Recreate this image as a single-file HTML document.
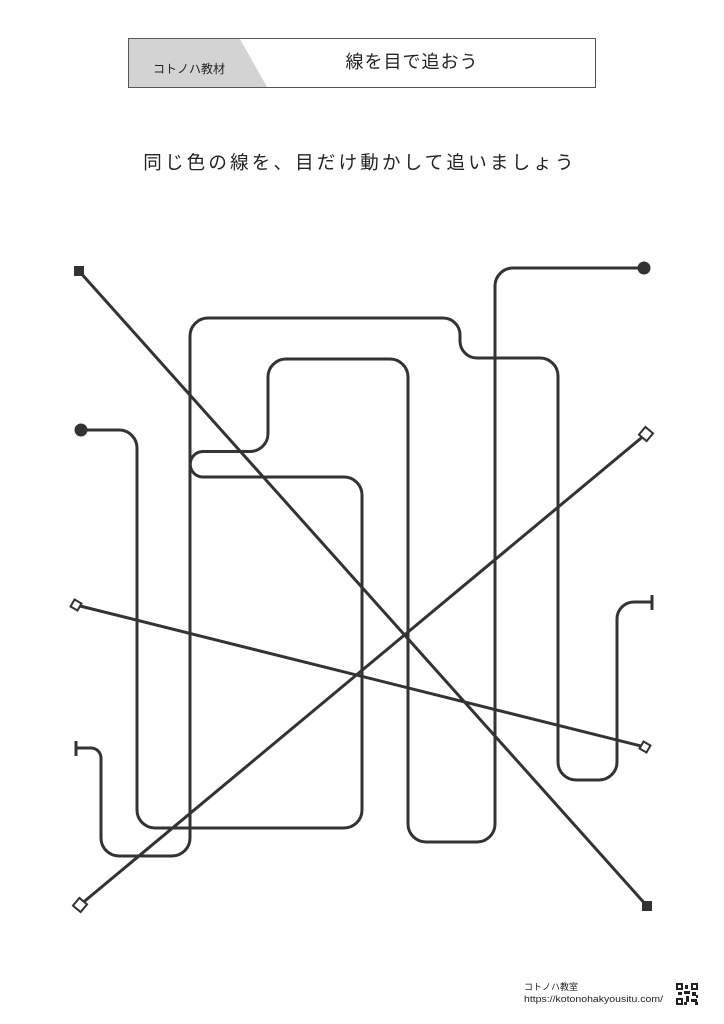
<!DOCTYPE html>
<html><head><meta charset="utf-8"><style>
html,body{margin:0;padding:0;background:#fff;}
svg{display:block;}
text{font-family:"Liberation Sans","Noto Sans CJK JP",sans-serif;fill:#222;}
</style></head><body>
<svg width="724" height="1024" viewBox="0 0 724 1024" xmlns="http://www.w3.org/2000/svg">
<rect x="128.5" y="38.5" width="467" height="49" fill="#fff" stroke="#555" stroke-width="1"/>
<polygon points="129,39 240,39 267,87 129,87" fill="#d4d3d4"/>
<rect x="128.5" y="38.5" width="467" height="49" fill="none" stroke="#555" stroke-width="1"/>
<text x="189" y="73" font-size="12" text-anchor="middle">コトノハ教材</text>
<text x="412" y="68" font-size="18" text-anchor="middle" letter-spacing="1">線を目で追おう</text>
<text x="360" y="169" font-size="18.5" text-anchor="middle" letter-spacing="3.2">同じ色の線を、目だけ動かして追いましょう</text>

<g fill="none" stroke="#333" stroke-width="3" stroke-linejoin="round">
<line x1="79" y1="271" x2="647" y2="906"/>
<line x1="76" y1="605" x2="645" y2="747"/>
<line x1="80" y1="905" x2="646" y2="434"/>
<path d="M81,430 H119 A18,18 0 0 1 137,448 V810 A18,18 0 0 0 155,828 H344 A18,18 0 0 0 362,810 V495 A18,18 0 0 0 344,477 H203 A12.5,12.5 0 0 1 203,451.5 H250 A18,18 0 0 0 268,433.5 V377 A18,18 0 0 1 286,359 H390 A18,18 0 0 1 408,377 V824 A18,18 0 0 0 426,842 H477 A18,18 0 0 0 495,824 V286 A18,18 0 0 1 513,268 H644"/>
<path d="M76,748 H91 A10,10 0 0 1 101,758 V838 A18,18 0 0 0 119,856 H172 A18,18 0 0 0 190,838 V336 A18,18 0 0 1 208,318 H443 A17,17 0 0 1 460,335 V341 A17,17 0 0 0 477,358 H540 A18,18 0 0 1 558,376 V762 A18,18 0 0 0 576,780 H599 A18,18 0 0 0 617,762 V619 A17,17 0 0 1 634,602 H652"/>
<line x1="76" y1="741" x2="76" y2="756"/>
<line x1="652" y1="595" x2="652" y2="610"/>
</g>
<g fill="#333">
<rect x="74" y="266" width="10" height="10"/>
<rect x="642" y="901" width="10" height="10"/>
<circle cx="81" cy="430" r="6.5"/>
<circle cx="644" cy="268" r="6.5"/>
</g>
<g fill="#fff" stroke="#333" stroke-width="2">
<rect x="72" y="601" width="8" height="8" transform="rotate(45 76 605) rotate(-15 76 605)"/>
<rect x="641" y="743" width="8" height="8" transform="rotate(30 645 747)"/>
<rect x="641" y="429" width="10" height="10" transform="rotate(40 646 434)"/>
<rect x="75" y="900" width="10" height="10" transform="rotate(40 80 905)"/>
</g>
<text x="524" y="990" font-size="9">コトノハ教室</text>
<text x="524" y="1002" font-size="9.6" textLength="139" lengthAdjust="spacingAndGlyphs">https://kotonohakyousitu.com/</text>
<g fill="#222">
<rect x="676" y="983" width="22" height="22" fill="#fff"/>
<rect x="676" y="983" width="7" height="7"/><rect x="691" y="983" width="7" height="7"/><rect x="676" y="998" width="7" height="7"/>
<rect x="685" y="985" width="3" height="4"/><rect x="684" y="991" width="6" height="3"/><rect x="692" y="992" width="4" height="4"/>
<rect x="686" y="996" width="3" height="6"/><rect x="691" y="999" width="6" height="3"/><rect x="678" y="992" width="4" height="3"/>
<rect x="695" y="1002" width="3" height="3"/><rect x="684" y="1002" width="3" height="3"/><rect x="696" y="995" width="2" height="3"/>
</g>
<g fill="#fff"><rect x="678" y="985" width="3" height="3"/><rect x="693" y="985" width="3" height="3"/><rect x="678" y="1000" width="3" height="3"/></g>
</svg>
</body></html>
